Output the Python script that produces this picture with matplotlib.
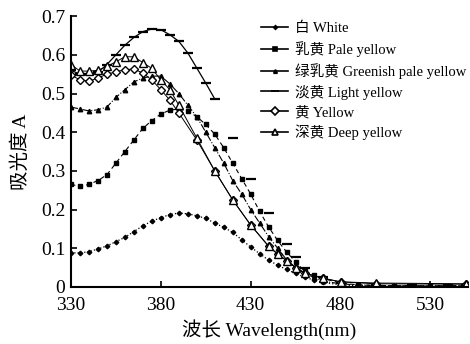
import matplotlib
matplotlib.use("Agg")
import matplotlib.pyplot as plt
from matplotlib.lines import Line2D

plt.rcParams["font.family"] = ["Liberation Serif", "Noto Sans CJK SC"]

# wavelength grids (nm)
wl_fine = [330, 335, 340, 345, 350, 355, 360, 365, 370, 375, 380, 385, 390,
           395, 400, 405, 410, 415, 420, 425, 430, 435, 440, 445, 450, 455,
           460, 465, 470, 480, 490, 500, 510, 520, 530, 540, 550]
wl_light = [330, 335, 340, 345, 350, 355, 360, 365, 370, 375, 380, 385, 390,
            395, 400, 405, 410]
wl_light_tail = [420, 430, 440, 450, 455, 460, 470, 480, 500, 520, 540, 550]
wl_yel = [330, 335, 340, 345, 350, 355, 360, 365, 370, 375, 380, 385, 390,
          400, 410, 420, 430, 440, 445, 450, 455, 460, 470, 480, 500, 550]

white = [0.088, 0.088, 0.091, 0.098, 0.106, 0.117, 0.128, 0.143, 0.158, 0.170,
         0.179, 0.187, 0.191, 0.189, 0.184, 0.177, 0.165, 0.154, 0.141, 0.122,
         0.103, 0.086, 0.069, 0.056, 0.045, 0.035, 0.025, 0.018, 0.012, 0.005,
         0.003, 0.003, 0.002, 0.002, 0.002, 0.002, 0.002]
pale = [0.265, 0.260, 0.265, 0.275, 0.290, 0.320, 0.350, 0.380, 0.410, 0.430,
        0.447, 0.457, 0.460, 0.455, 0.440, 0.420, 0.395, 0.360, 0.320, 0.280,
        0.240, 0.195, 0.155, 0.120, 0.090, 0.065, 0.040, 0.030, 0.022, 0.010,
        0.005, 0.004, 0.003, 0.003, 0.003, 0.003, 0.003]
greenish = [0.465, 0.460, 0.455, 0.458, 0.465, 0.490, 0.510, 0.530, 0.540,
            0.545, 0.545, 0.525, 0.500, 0.470, 0.440, 0.400, 0.360, 0.320,
            0.275, 0.240, 0.200, 0.165, 0.130, 0.100, 0.070, 0.050, 0.035,
            0.025, 0.015, 0.008, 0.005, 0.004, 0.003, 0.003, 0.003, 0.003,
            0.003]
light = [0.560, 0.550, 0.550, 0.555, 0.575, 0.600, 0.625, 0.645, 0.660, 0.667,
         0.665, 0.652, 0.635, 0.605, 0.566, 0.527, 0.486]
light_tail = [0.385, 0.280, 0.190, 0.110, 0.078, 0.050, 0.025, 0.010, 0.006,
              0.005, 0.005, 0.005]
yellow = [0.548, 0.535, 0.532, 0.540, 0.550, 0.556, 0.562, 0.563, 0.553, 0.535,
          0.510, 0.483, 0.450, 0.380, 0.300, 0.225, 0.160, 0.105, 0.085, 0.068,
          0.050, 0.036, 0.022, 0.013, 0.008, 0.007]
deep = [0.575, 0.558, 0.558, 0.560, 0.570, 0.582, 0.595, 0.595, 0.580, 0.565,
        0.535, 0.510, 0.470, 0.385, 0.300, 0.225, 0.160, 0.105, 0.085, 0.068,
        0.050, 0.036, 0.023, 0.013, 0.010, 0.008]

labels = ["白 White", "乳黄 Pale yellow", "绿乳黄 Greenish pale yellow",
          "淡黄 Light yellow", "黄 Yellow", "深黄 Deep yellow"]
x_ticks = [330, 380, 430, 480, 530]
y_ticks = [0, 0.1, 0.2, 0.3, 0.4, 0.5, 0.6, 0.7]
y_labels = ["0", "0.1", "0.2", "0.3", "0.4", "0.5", "0.6", "0.7"]

fig = plt.figure(figsize=(4.70, 3.44), dpi=100)
ax = fig.add_axes([0.151, 0.166, 0.845, 0.787])

k = "black"
# marker style per series: (marker, size, face)
styles = [("D", 2.3, k), ("s", 3.2, k), ("^", 3.2, k),
          ("_", 7, k), ("D", 4.5, "white"), ("^", 5.5, "white")]

ax.plot(wl_fine, white, color=k, ls=":", lw=0.9, marker="D", ms=2.3)
ax.plot(wl_fine, pale, color=k, ls=(0, (4, 3)), lw=0.8, marker="s", ms=3.2)
ax.plot(wl_fine, greenish, color=k, ls="-.", lw=0.8, marker="^", ms=3.2)
ax.plot(wl_light, light, color=k, ls="-", lw=0.9, marker="_", ms=7, mew=1.6)
ax.plot(wl_light_tail, light_tail, color=k, ls="none", marker="_", ms=7,
        mew=1.6)
ax.plot(wl_yel, yellow, color=k, ls="-", lw=0.7, marker="D", ms=4.5,
        mfc="white", mew=1)
ax.plot(wl_yel, deep, color=k, ls="-", lw=0.7, marker="^", ms=5.5,
        mfc="white", mew=1)

# legend shows every series as a solid line with its marker
handles = [Line2D([], [], color=k, lw=1.2, marker=m, ms=s * 0.8, mfc=fc,
                  mew=1.2) for m, s, fc in styles]

ax.set_xlim(330, 551)
ax.set_ylim(0, 0.7)
ax.set_xticks(x_ticks)
ax.set_yticks(y_ticks)
ax.set_yticklabels(y_labels)
ax.tick_params(direction="in", length=4, width=1.2, labelsize=14)
ax.tick_params(axis="x", pad=7)
ax.tick_params(axis="y", pad=4)
for s in ("top", "right"):
    ax.spines[s].set_visible(False)
for s in ("left", "bottom"):
    ax.spines[s].set_linewidth(1.5)

ax.set_xlabel("波长 Wavelength(nm)", fontsize=14, labelpad=4)
ax.set_ylabel("吸光度 A", fontsize=14, labelpad=8)

ax.legend(handles, labels, loc="upper left", bbox_to_anchor=(0.465, 1.0),
          frameon=False, fontsize=10.5, handlelength=1.8, handletextpad=0.5,
          labelspacing=0.4, borderaxespad=0.0)

fig.savefig("out.png", dpi=100)
